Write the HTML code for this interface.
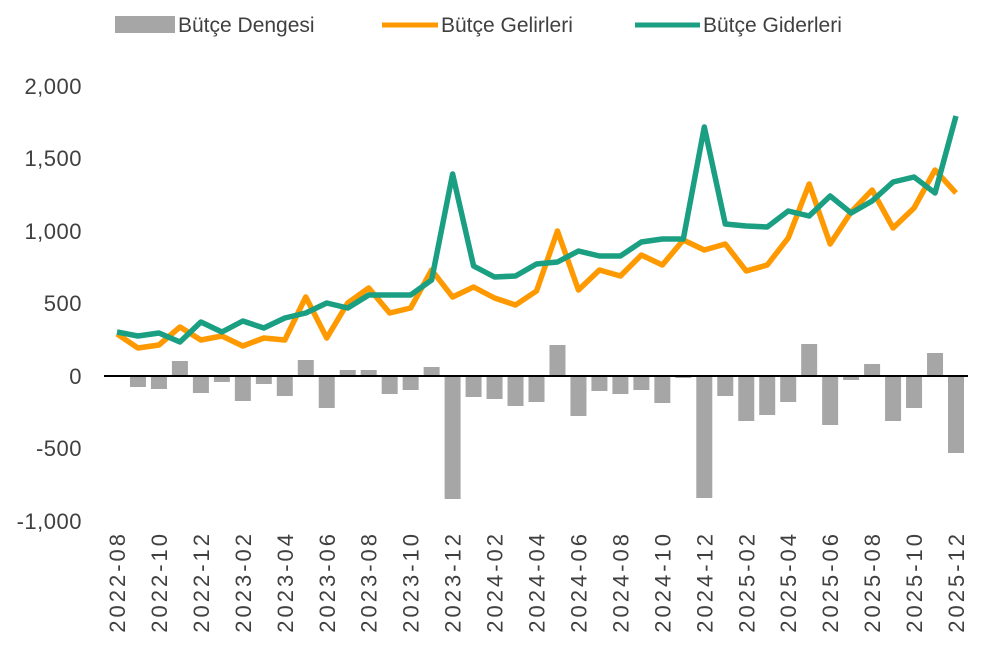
<!DOCTYPE html><html><head><meta charset="utf-8"><style>body{margin:0;background:#fff}svg{display:block;font-family:"Liberation Sans",sans-serif}</style></head><body>
<svg width="1000" height="670" viewBox="0 0 1000 670">
<g font-size="21" fill="#404040">
<rect x="115" y="16" width="60" height="17" fill="#a6a6a6"/><text x="178" y="32">Bütçe Dengesi</text>
<line x1="382" y1="25" x2="438" y2="25" stroke="#ff9900" stroke-width="5"/><text x="441" y="32">Bütçe Gelirleri</text>
<line x1="635" y1="25" x2="700" y2="25" stroke="#1a9f82" stroke-width="5"/><text x="703" y="32">Bütçe Giderleri</text>
</g>
<g font-size="22" fill="#404040" text-anchor="end" letter-spacing="0.5">
<text x="82" y="94">2,000</text><text x="82" y="166">1,500</text><text x="82" y="239">1,000</text><text x="82" y="311">500</text><text x="82" y="384">0</text><text x="82" y="456">-500</text><text x="82" y="529">-1,000</text>
</g>
<g id="bars" fill="#a6a6a6"></g>
<line x1="104" y1="376" x2="968" y2="376" stroke="#000" stroke-width="2"/>
<polyline id="og" fill="none" stroke="#ff9900" stroke-width="5.5" stroke-linejoin="round"/>
<polyline id="gr" fill="none" stroke="#1a9f82" stroke-width="5.5" stroke-linejoin="round"/>
<g id="xl" font-size="22" fill="#404040" letter-spacing="3"></g>
</svg>
<script>
var g=[332,336,333,342,322,332,321,328,318,313,303,308,295,295,295,280,174,266,277,276,264,262,251,256,256,242,239,239,127,224,226,227,211,216,196,213,201,182,177,193,116];
var o=[334,348,345,327,340,336,346,338,340,297,338,303,288,313,308,270,297,287,298,305,291,231,290,270,276,255,265,240,250,244,271,265,238,184,244,212,190,228,208,170,193];
var b=[0,-11,-13,15,-17,-6,-25,-8,-20,16,-32,6,6,-18,-14,9,-123,-21,-23,-30,-26,31,-40,-15,-18,-14,-27,-2,-122,-20,-45,-39,-26,32,-49,-4,12,-45,-32,23,-77];
var X=i=>117+i*20.975,ns="http://www.w3.org/2000/svg";
document.getElementById('og').setAttribute('points',o.map((y,i)=>X(i)+','+y).join(' '));
document.getElementById('gr').setAttribute('points',g.map((y,i)=>X(i)+','+y).join(' '));
var bg=document.getElementById('bars'),xl=document.getElementById('xl');
b.forEach((v,i)=>{if(!v)return;var r=document.createElementNS(ns,'rect');r.setAttribute('x',X(i)-8);r.setAttribute('width',16);r.setAttribute('y',v>0?376-v:376);r.setAttribute('height',Math.abs(v));bg.appendChild(r);});
for(var i=0;i<41;i+=2){var m=8+i,yr=2022+Math.floor((m-1)/12),mo=((m-1)%12)+1;var t=document.createElementNS(ns,'text');t.setAttribute('text-anchor','end');t.setAttribute('transform','translate('+(X(i)+8)+',531) rotate(-90)');t.textContent=yr+'-'+(mo<10?'0':'')+mo;xl.appendChild(t);}
</script>
</body></html>
